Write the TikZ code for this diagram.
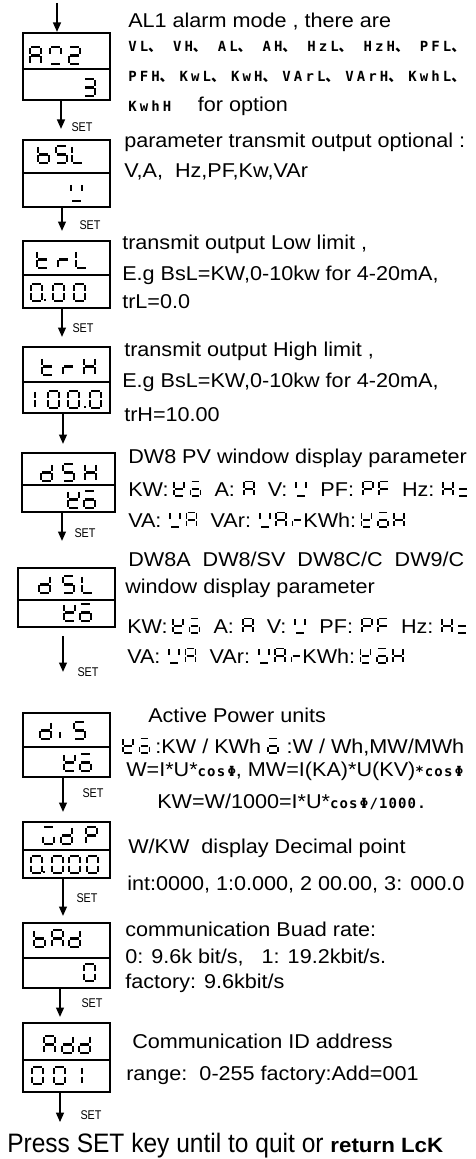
\documentclass[tikz,border=0pt]{standalone}
\usepackage{fontspec}
\setmainfont{Liberation Sans}[FakeStretch=1.08]
\newfontfamily\setlblfont{Liberation Sans}[FakeStretch=0.85]
\newfontfamily\pressfont{Liberation Sans}[FakeStretch=0.92]
\newfontfamily\monob{DejaVu Sans Mono}[LetterSpace=8]
\newfontfamily\optfont{DejaVu Sans Mono}[LetterSpace=22]
\newfontfamily\cjk{Noto Sans CJK SC}
\usetikzlibrary{arrows.meta, fit}

% seven-segment cell: width \cw, half height \ch
\def\cw{8.25pt}\def\ch{6.4pt}
\def\sgma{(0.12*\cw,2*\ch)--(0.88*\cw,2*\ch)}
\def\sgmb{(\cw,1.88*\ch)--(\cw,1.12*\ch)}
\def\sgmc{(\cw,0.88*\ch)--(\cw,0.12*\ch)}
\def\sgmd{(0.12*\cw,0)--(0.88*\cw,0)}
\def\sgme{(0,0.88*\ch)--(0,0.12*\ch)}
\def\sgmf{(0,1.88*\ch)--(0,1.12*\ch)}
\def\sgmg{(0.12*\cw,\ch)--(0.88*\cw,\ch)}
\def\sgmi{(0,0.1*\ch)--(0,0.8*\ch)}
\def\sgmp{(0,0)--(0,1.5pt)}

\tikzset{
  seg/.style = {line width=1.6pt},
  pics/lcd/.style = {code={%
    \foreach \s in {#1}{%
      \edef\segpath{\noexpand\draw[seg] \csname sgm\s\endcsname;}\segpath}}},
}
% inline display glyph in running text
\newcommand\lcd[1]{\tikz[baseline=0pt]{\def\cw{7.5pt}\def\ch{5.4pt}%
  \tikzset{seg/.style={line width=1.2pt}}\pic{lcd={#1}};}}
\newcommand\dun{{\cjk\bfseries 、}}
\newcommand\cosphi{{\monob\bfseries\fontsize{10.5}{12}\selectfont cos\,Φ}}
% glyph spacing in the parameter lines
\newcommand\gpair{\hspace{3.5pt}}
\newcommand\gcol{\hspace{6pt}}
\newcommand\ggrp{\hspace{10pt}}

\begin{document}
\begin{tikzpicture}[x=0.75pt, y=0.75pt,
  every node/.style = {inner sep=0pt},
  txt/.style     = {anchor=base west, font=\fontsize{15}{18}\selectfont},
  opt/.style     = {anchor=base west, font=\optfont\bfseries\fontsize{10.5}{12}\selectfont},
  lcdbox/.style  = {draw, line width=1.75pt, fit={#1}},
  midline/.style = {line width=1.4pt},
  flow/.style    = {-{Triangle[length=7pt, width=6pt]}, line width=0.9pt},
  setlbl/.style  = {font=\setlblfont\fontsize{9.5}{11}\selectfont},
]
\useasboundingbox (0,0) rectangle (475,-1159);

%% ── Display boxes ─────────────────────────────────────────────────────────
\node[lcdbox={(23,-33) (110,-100)}]  (alm) {};
\node[lcdbox={(23,-140) (110,-207)}] (bsl) {};
\node[lcdbox={(23,-241) (110,-308)}] (trl) {};
\node[lcdbox={(23,-347) (110,-413)}] (trh) {};
\node[lcdbox={(22,-453) (115,-512)}] (dsh) {};
\node[lcdbox={(18,-568) (115,-627)}] (dsl) {};
\node[lcdbox={(23,-713) (110,-777)}] (dis) {};
\node[lcdbox={(23,-822) (110,-878)}] (gdp) {};
\node[lcdbox={(23,-923) (110,-988)}] (bad) {};
\node[lcdbox={(23,-1023) (110,-1092)}] (add) {};

% separators between the two rows
\draw[midline] (alm.west |- 0,-69)   -- (alm.east |- 0,-69);
\draw[midline] (bsl.west |- 0,-173)  -- (bsl.east |- 0,-173);
\draw[midline] (trl.west |- 0,-275)  -- (trl.east |- 0,-275);
\draw[midline] (trh.west |- 0,-382)  -- (trh.east |- 0,-382);
\draw[midline, line width=2pt] (dsh.west |- 0,-485) -- (dsh.east |- 0,-485);
\draw[midline] (dsl.west |- 0,-600)  -- (dsl.east |- 0,-600);
\draw[midline] (dis.west |- 0,-747)  -- (dis.east |- 0,-747);
\draw[midline] (gdp.west |- 0,-850)  -- (gdp.east |- 0,-850);
\draw[midline] (bad.west |- 0,-958)  -- (bad.east |- 0,-958);
\draw[midline] (add.west |- 0,-1060) -- (add.east |- 0,-1060);

% ── Segment readouts ──────────────────────────────────────────────────────
% A02 / 3
\pic at (30,-64) {lcd={a,b,c,e,f,g}};
\pic at (50,-64) {lcd={a,b,f,d}};
\pic at (69,-64) {lcd={a,b,g,e,d}};
\pic at (84,-96) {lcd={a,b,g,c,d}};
% bSL / V
\pic at (38,-163) {lcd={f,e,g,c,d}};
\pic at (56,-163) {lcd={a,f,g,c,d}};
\pic at (72,-163) {lcd={f,e,d}};
\pic at (71,-201) {lcd={f,b,d}};
% trL / 0.00
\pic at (37,-268) {lcd={f,e,g,d}};
\pic at (58,-268) {lcd={g,e}};
\pic at (76,-268) {lcd={f,e,d}};
\pic at (31,-301) {lcd={a,b,c,d,e,f}};
\pic at (45,-301) {lcd={p}};
\pic at (53,-301) {lcd={a,b,c,d,e,f}};
\pic at (74,-301) {lcd={a,b,c,d,e,f}};
% trH / 100.0
\pic at (42,-375) {lcd={f,e,g,d}};
\pic at (63,-375) {lcd={g,e}};
\pic at (84,-375) {lcd={b,c,e,f,g}};
\pic at (35,-408) {lcd={f,e}};
\pic at (48,-408) {lcd={a,b,c,d,e,f}};
\pic at (68,-408) {lcd={a,b,c,d,e,f}};
\pic at (85,-408) {lcd={p}};
\pic at (90,-408) {lcd={a,b,c,d,e,f}};
% dSH / KW
\pic at (41,-481) {lcd={b,c,g,e,d}};
\pic at (63,-481) {lcd={a,f,g,c,d}};
\pic at (85,-481) {lcd={b,c,e,f,g}};
\pic at (68,-508) {lcd={f,b,g,e,d}};
\pic at (84,-508) {lcd={a,g,c,d,e}};
% dSL / KW
\pic at (39,-593) {lcd={b,c,g,e,d}};
\pic at (63,-593) {lcd={a,f,g,c,d}};
\pic at (82,-593) {lcd={f,e,d}};
\pic at (64,-621) {lcd={f,b,g,e,d}};
\pic at (80,-621) {lcd={a,g,c,d,e}};
% diS / KW
\pic at (40,-739) {lcd={b,c,g,e,d}};
\pic at (60,-739) {lcd={i}};
\pic at (74,-739) {lcd={a,f,g,c,d}};
\pic at (64,-771) {lcd={f,b,g,e,d}};
\pic at (80,-771) {lcd={a,g,c,d,e}};
% WdP / 0.000
\pic at (43,-844) {lcd={a,c,d,e}};
\pic at (61,-844) {lcd={b,c,g,e,d}};
\pic at (86,-844) {lcd={a,b,f,g,e}};
\pic at (31,-873) {lcd={a,b,c,d,e,f}};
\pic at (44,-873) {lcd={p}};
\pic at (52,-873) {lcd={a,b,c,d,e,f}};
\pic at (69,-873) {lcd={a,b,c,d,e,f}};
\pic at (87,-873) {lcd={a,b,c,d,e,f}};
% bAd / 0
\pic at (34,-947) {lcd={f,e,g,c,d}};
\pic at (52,-947) {lcd={a,b,c,e,f,g}};
\pic at (69,-947) {lcd={b,c,g,e,d}};
\pic at (84,-981) {lcd={a,b,c,d,e,f}};
% Add / 001
\pic at (44,-1053) {lcd={a,b,c,e,f,g}};
\pic at (62,-1053) {lcd={b,c,g,e,d}};
\pic at (79,-1053) {lcd={b,c,g,e,d}};
\pic at (32,-1084) {lcd={a,b,c,d,e,f}};
\pic at (54,-1084) {lcd={a,b,c,d,e,f}};
\pic at (82,-1084) {lcd={f,e}};

%% ── Flow arrows ───────────────────────────────────────────────────────────
\coordinate (start) at (57,-3);
\coordinate (quitpt) at (60,-1122);
\coordinate (c60) at (60,0);
\coordinate (c61) at (61,0);
\coordinate (c62) at (62,0);
\coordinate (c63) at (63,0);

\draw[flow] (start) -- (alm.north -| start);
\draw[flow, shorten >=7.5pt]  (alm.south -| c61) -- (bsl.north -| c61);
\draw[flow, shorten >=6.75pt] (bsl.south -| c62) -- (trl.north -| c62);
\draw[flow, shorten >=6.75pt] (trl.south -| c62) -- (trh.north -| c62);
\draw[flow, shorten >=6pt]    (trh.south -| c63) -- (dsh.north -| c63);
\draw[flow, shorten >=19.5pt] (dsh.south -| c62) -- (dsl.north -| c62);
\draw[flow, shorten <=6pt, shorten >=30pt] (dsl.south -| c63) -- (dis.north -| c63);
\draw[flow, shorten >=6.75pt] (dis.south -| c63) -- (gdp.north -| c63);
\draw[flow, shorten >=4.5pt]  (gdp.south -| c63) -- (bad.north -| c63);
\draw[flow, shorten >=3.75pt] (bad.south -| c60) -- (add.north -| c60);
\draw[flow] (add.south -| c60) -- (quitpt);

% SET labels
\node[setlbl] (set1)  at (82,-127)  {SET};
\node[setlbl] (set2)  at (90,-225)  {SET};
\node[setlbl] (set3)  at (83,-328)  {SET};
\node[setlbl] (set5)  at (85,-533)  {SET};
\node[setlbl] (set6)  at (88,-672)  {SET};
\node[setlbl] (set7)  at (93,-793)  {SET};
\node[setlbl] (set8)  at (87,-898)  {SET};
\node[setlbl] (set9)  at (92,-1003) {SET};
\node[setlbl] (set10) at (91,-1115) {SET};

%% ── Descriptions ──────────────────────────────────────────────────────────
% alarm mode
\node[txt] (almA) at (128,-28) {AL1 alarm mode , there are};
\node[opt] (almB) at (128,-52) {\hbox to 252.75pt{VL\dun\hfill VH\dun\hfill
  AL\dun\hfill AH\dun\hfill HzL\dun\hfill HzH\dun\hfill PFL\dun}};
\node[opt] (almC) at (128,-82) {\hbox to 252.75pt{PFH\dun\hfill KwL\dun\hfill
  KwH\dun\hfill VArL\dun\hfill VArH\dun\hfill KwhL\dun}};
\node[txt] (almD) at (128,-112) {{\optfont\bfseries\fontsize{10.5}{12}\selectfont KwhH}\hspace{20pt}for option};

% transmit output
\node[txt] (bslA) at (124,-147) {parameter transmit output optional :};
\node[txt] (bslB) at (124,-177) {V,A,\ \ Hz,PF,Kw,VAr};

\node[txt] (trlA) at (122,-249) {transmit output Low limit ,};
\node[txt] (trlB) at (122,-280) {E.g BsL=KW,0-10kw for 4-20mA,};
\node[txt] (trlC) at (122,-308) {trL=0.0};

\node[txt] (trhA) at (124,-356) {transmit output High limit ,};
\node[txt] (trhB) at (122,-387) {E.g BsL=KW,0-10kw for 4-20mA,};
\node[txt] (trhC) at (124,-421) {trH=10.00};

% window display
\node[txt] (dshA) at (128,-463) {DW8 PV window display parameter};
\node[txt] (dshB) at (128,-496) {KW:\gpair\lcd{f,b,g,e,d}\gpair\lcd{a,g,c,d,e}\ggrp A:\gcol\lcd{a,b,c,e,f,g}\ggrp V:\gcol\lcd{f,b,d}\ggrp PF:\gcol\lcd{a,b,f,g,e}\gpair\lcd{a,f,g,e}\ggrp Hz:\gcol\lcd{b,c,e,f,g}\gpair\lcd{g,d}};
\node[txt] (dshC) at (128,-527) {VA:\gcol\lcd{f,b,d}\gpair\lcd{a,b,c,e,f,g}\ggrp VAr:\gcol\lcd{f,b,d}\gpair\lcd{a,b,c,e,f,g}\gpair\lcd{e,g}\hspace{1pt}KWh:\gpair\lcd{f,b,g,e,d}\gpair\lcd{a,g,c,d,e}\gpair\lcd{b,c,e,f,g}};

\node[txt] (dslA) at (128,-566) {DW8A\ \ DW8/SV\ \ DW8C/C\ \ DW9/C};
\node[txt] (dslB) at (125,-593) {window display parameter};
\node[txt] (dslC) at (127,-633) {KW:\gpair\lcd{f,b,g,e,d}\gpair\lcd{a,g,c,d,e}\ggrp A:\gcol\lcd{a,b,c,e,f,g}\ggrp V:\gcol\lcd{f,b,d}\ggrp PF:\gcol\lcd{a,b,f,g,e}\gpair\lcd{a,f,g,e}\ggrp Hz:\gcol\lcd{b,c,e,f,g}\gpair\lcd{g,d}};
\node[txt] (dslD) at (127,-663) {VA:\gcol\lcd{f,b,d}\gpair\lcd{a,b,c,e,f,g}\ggrp VAr:\gcol\lcd{f,b,d}\gpair\lcd{a,b,c,e,f,g}\gpair\lcd{e,g}\hspace{1pt}KWh:\gpair\lcd{f,b,g,e,d}\gpair\lcd{a,g,c,d,e}\gpair\lcd{b,c,e,f,g}};

% power units
\node[txt] (disA) at (148,-722) {Active Power units};
\node[txt] (disB) at (122,-753) {\lcd{f,b,g,e,d}\gpair\lcd{a,g,c,d,e}\hspace{4pt}:KW / KWh\ \lcd{a,g,c,d,e}\hspace{6pt}:W / Wh,MW/MWh};
\node[txt] (disC) at (126,-776) {W=I*U*\cosphi, MW=I(KA)*U(KV){\monob\bfseries\fontsize{10.5}{12}\selectfont *}\cosphi};
\node[txt] (disD) at (157,-808) {KW=W/1000=I*U*{\monob\bfseries\fontsize{10.5}{12}\selectfont cos\,Φ/1000.}};

% decimal point
\node[txt] (gdpA) at (128,-853) {W/KW\ \ display Decimal point};
\node[txt] (gdpB) at (127,-890) {int:0000, 1:0.000, 2 00.00, 3: 000.0};

% baud rate
\node[txt] (badA) at (125,-936) {communication Buad rate:};
\node[txt] (badB) at (125,-963) {0: 9.6k bit/s,\ \ \ 1: 19.2kbit/s.};
\node[txt] (badC) at (125,-988) {factory: 9.6kbit/s};

% address
\node[txt] (addA) at (132,-1048) {Communication ID address};
\node[txt] (addB) at (126,-1080) {range:\ \ 0-255 factory:Add=001};

%% ── Closing note ──────────────────────────────────────────────────────────
\node[anchor=base west, font=\pressfont\fontsize{20}{24}\selectfont] (quit) at (7,-1152)
  {Press SET key until to quit or {\normalfont\bfseries\fontsize{15.5}{18}\selectfont return LcK}};

\end{tikzpicture}
\end{document}
